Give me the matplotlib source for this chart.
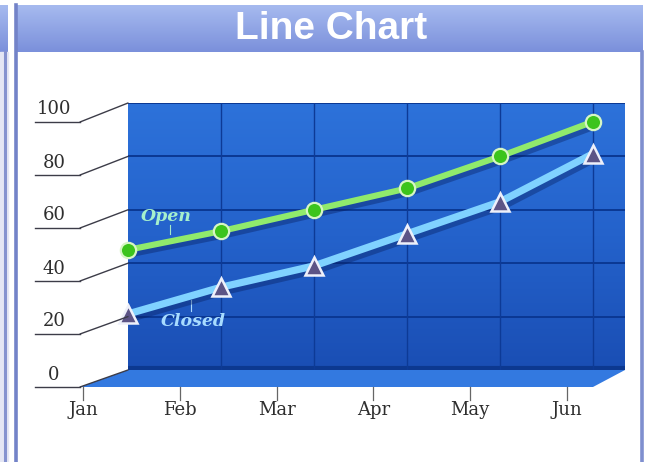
import numpy as np
import matplotlib
matplotlib.use("Agg")
import matplotlib.pyplot as plt
from matplotlib.colors import LinearSegmentedColormap
from matplotlib.patches import ConnectionPatch, Polygon, Rectangle
from matplotlib.transforms import IdentityTransform
import matplotlib.patheffects as pe

# ---------------- data ----------------
months = ["Jan", "Feb", "Mar", "Apr", "May", "Jun"]
open_vals = [45, 52, 60, 68, 80, 93]
closed_vals = [21, 31, 39, 51, 63, 81]
y_ticks = [0, 20, 40, 60, 80, 100]
title = "Line Chart"
series_labels = ["Open", "Closed"]

W, H = 648, 462
fig = plt.figure(figsize=(W / 100, H / 100), dpi=100)
fig.patch.set_facecolor("white")

def fx(x):
    return x / W

def fy(y):
    return 1 - y / H

# ---------------- background / panel ----------------
bg = fig.add_axes([0, 0, 1, 1], zorder=0)
bg.set_xlim(0, W)
bg.set_ylim(H, 0)
bg.axis("off")

hdr_cmap = LinearSegmentedColormap.from_list("hdr", ["#a6baef", "#7b90db"])
grad = np.linspace(0, 1, 64).reshape(-1, 1)
bg.imshow(grad, extent=[17, 643, 52, 5], cmap=hdr_cmap, aspect="auto", zorder=1)
bg.imshow(grad, extent=[0, 8, 52, 5], cmap=hdr_cmap, aspect="auto", zorder=1)
bg.add_patch(Rectangle((0, 52), 8, H - 52, color="#e4e6f4", zorder=1))
bg.plot([5, 5], [52, H], color="#8592cf", lw=2.2, zorder=2)
bg.plot([16, 16], [5, H], color="#7383c8", lw=2.6, zorder=2)
bg.plot([641.5, 641.5], [52, H], color="#7f8fcf", lw=2.6, zorder=2)
bg.text(331, 29, title, ha="center", va="center", fontsize=28,
        fontweight="bold", color="white", family="Liberation Sans", zorder=3)

# ---------------- back wall axes ----------------
px_per_x = 93.0
ax = fig.add_axes([fx(128), fy(370), 497 / W, 267 / H], zorder=2)
xmax = 497 / px_per_x
ax.set_xlim(0, xmax)
ax.set_ylim(0, 100)
ax.axis("off")
wall_cmap = LinearSegmentedColormap.from_list("wall", ["#1a4eb4", "#2462cb", "#2d72da"])
wg = np.linspace(0, 1, 128).reshape(-1, 1)
ax.imshow(wg, extent=[0, xmax, 0, 100], origin="lower", cmap=wall_cmap,
          aspect="auto", zorder=0)
for v in y_ticks[1:]:
    ax.axhline(v, color="#0b3893", lw=1.4, zorder=1)
ax.axhline(0.6, color="#0c3890", lw=3, zorder=1)
xs = np.arange(len(months))
for x in xs[1:]:
    ax.axvline(x, color="#0d3a96", lw=1.0, zorder=1)

shadow = [pe.SimpleLineShadow(offset=(2.5, -3), shadow_color="#061c5c", alpha=0.38),
          pe.Normal()]
ax.plot(xs, closed_vals, color="#80d2ff", lw=5.2, solid_capstyle="round",
        zorder=3, clip_on=False, path_effects=shadow)
ax.plot(xs, open_vals, color="#90ea6c", lw=4.4, solid_capstyle="round",
        zorder=4, clip_on=False, path_effects=shadow)
ax.plot(xs, closed_vals, ls="none", marker="^", ms=13, mfc="#5c5486",
        mec="#eef0fa", mew=1.8, zorder=5, clip_on=False)
ax.plot(xs, open_vals, ls="none", marker="o", ms=11, mfc="#3cc41c",
        mec="#d6f6c4", mew=1.6, zorder=6, clip_on=False)

# series labels with leader lines
ax.text(0.41, 57.5, series_labels[0], ha="center", va="center", fontsize=12.5,
        fontweight="bold", style="italic", family="DejaVu Serif",
        color="#a6f0cc", zorder=7, clip_on=False)
ax.plot([0.45, 0.45], [54.3, 50.8], color="#a6e8c8", lw=0.8, zorder=2)
ax.text(0.70, 18.0, series_labels[1], ha="center", va="center", fontsize=12.5,
        fontweight="bold", style="italic", family="DejaVu Serif",
        color="#a8dcff", zorder=7, clip_on=False)
ax.plot([0.68, 0.68], [26.2, 22.2], color="#a8d8ff", lw=0.8, zorder=2)

# ---------------- front axis frame ----------------
axf = fig.add_axes([fx(83), fy(387), 484 / W, 265 / H], zorder=3)
axf.set_xlim(0, 5)
axf.set_ylim(0, 100)
axf.axis("off")
axf.patch.set_alpha(0)
fpx_x = 484 / 5
fpx_y = 265 / 100
x_left = (35 - 83) / fpx_x
x_corner = (80 - 83) / fpx_x
for v in y_ticks:
    axf.plot([x_left, x_corner], [v, v], color="#3c3c48", lw=1.0, clip_on=False)
    axf.text((54 - 83) / fpx_x, v + 3.5 / fpx_y, str(v), ha="center", va="bottom",
             fontsize=13, family="DejaVu Serif", color="#2e2e2e", clip_on=False)
    if v > 0:
        con = ConnectionPatch(xyA=(x_corner, v), coordsA=axf.transData,
                              xyB=(0, v), coordsB=ax.transData,
                              color="#3c3c48", lw=1.0, zorder=4)
        fig.add_artist(con)
for i, m in enumerate(months):
    axf.plot([i, i], [0, -13 / fpx_y], color="#666666", lw=0.9, clip_on=False)
    axf.text(i, -23 / fpx_y, m, ha="center", va="center", fontsize=13,
             family="DejaVu Serif", color="#2e2e2e", clip_on=False)

# ---------------- floor ----------------
fig.canvas.draw()
fl = axf.transData.transform((x_corner, 0))
fr = axf.transData.transform(((593 - 83) / fpx_x, 0))
br = ax.transData.transform((xmax, 0))
bl = ax.transData.transform((0, 0))
floor = Polygon([fl, fr, br, bl], closed=True, transform=IdentityTransform(),
                facecolor="#3379e0", edgecolor="none", zorder=1.5)
fig.add_artist(floor)
fig.add_artist(ConnectionPatch(xyA=fl, coordsA=IdentityTransform(), xyB=bl,
                               coordsB=IdentityTransform(), color="#3c3c48",
                               lw=1.0, zorder=4))

fig.savefig("out.png", dpi=100)
